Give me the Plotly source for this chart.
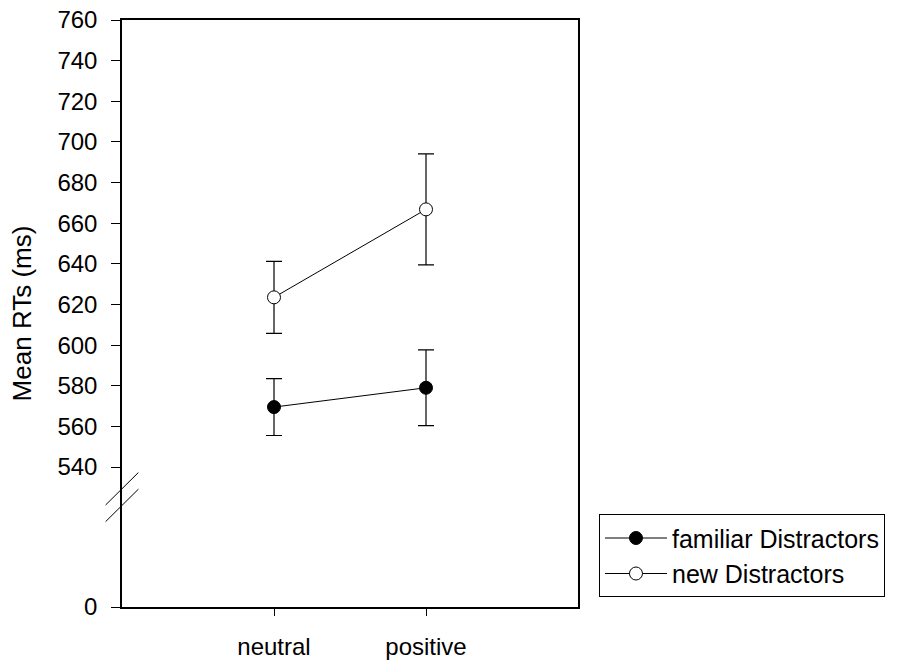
import plotly.graph_objects as go

# Conditions and mean reaction times (ms) with error-bar half-widths
conditions = ["neutral", "positive"]
familiar_mean = [569.5, 579.0]
familiar_err = [14.0, 18.6]
new_mean = [623.5, 666.8]
new_err = [17.7, 27.3]

# y-axis is broken: values from 540 up are drawn to scale, the baseline
# "0" is placed at the bottom of the axis below the break
axis_bottom = 471.1
axis_top = 760
tick_values = [axis_bottom] + list(range(540, 761, 20))
tick_labels = ["0"] + [str(v) for v in range(540, 761, 20)]
break_center = 529.3

FONT = "Liberation Sans, Arial, sans-serif"

fig = go.Figure()

fig.add_trace(go.Scatter(
    x=conditions, y=familiar_mean, name="familiar Distractors",
    mode="lines+markers",
    line=dict(color="black", width=1),
    marker=dict(symbol="circle", size=13, color="black",
                line=dict(color="black", width=1)),
    error_y=dict(type="data", array=familiar_err, visible=True,
                 color="black", thickness=1.2, width=8),
))
fig.add_trace(go.Scatter(
    x=conditions, y=new_mean, name="new Distractors",
    mode="lines+markers",
    line=dict(color="black", width=1),
    marker=dict(symbol="circle", size=13, color="white",
                line=dict(color="black", width=1)),
    error_y=dict(type="data", array=new_err, visible=True,
                 color="black", thickness=1.2, width=8),
))

# Axis-break marks: two short parallel diagonals across the y-axis
for off in (0.0, -8.2):
    fig.add_shape(type="line", xref="paper", yref="y",
                  x0=-0.036, x1=0.036,
                  y0=break_center + off - 8.0, y1=break_center + off + 8.0,
                  line=dict(color="black", width=1))

fig.update_layout(
    width=898, height=660,
    margin=dict(l=122, r=320, t=20, b=53, autoexpand=False),
    plot_bgcolor="white", paper_bgcolor="white",
    font=dict(family=FONT, size=24, color="black"),
    showlegend=True,
    legend=dict(
        x=1.046, y=0.158, xanchor="left", yanchor="top",
        bordercolor="black", borderwidth=1,
        bgcolor="white", itemwidth=62,
        font=dict(family=FONT, size=25, color="black"),
    ),
)

fig.update_xaxes(
    type="category", range=[-1, 2], automargin=False,
    showline=True, linecolor="black", linewidth=1.5, mirror=True,
    ticks="outside", ticklen=7, tickwidth=1, tickcolor="black",
    showgrid=False, zeroline=False,
    tickfont=dict(family=FONT, size=24),
    ticklabelstandoff=10,
)
fig.update_yaxes(
    range=[axis_bottom, axis_top], automargin=False,
    tickmode="array", tickvals=tick_values, ticktext=tick_labels,
    showline=True, linecolor="black", linewidth=1.5, mirror=True,
    ticks="outside", ticklen=9, tickwidth=1, tickcolor="black",
    showgrid=False, zeroline=False,
    tickfont=dict(family=FONT, size=24),
    ticklabelstandoff=9,
    title=dict(text="Mean RTs (ms)", font=dict(family=FONT, size=26), standoff=18),
)

fig.write_html("out.html")
